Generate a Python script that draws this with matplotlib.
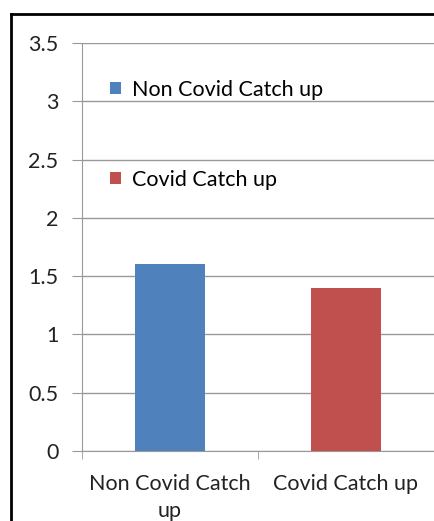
import matplotlib
matplotlib.use("Agg")
import matplotlib.pyplot as plt
from matplotlib.lines import Line2D

# data
categories = ["Non Covid Catch\nup", "Covid Catch up"]
values = [1.6, 1.4]
colors = ["#4F81BD", "#C0504D"]
yticks = [0, 0.5, 1, 1.5, 2, 2.5, 3, 3.5]
ytick_labels = ["0", "0.5", "1", "1.5", "2", "2.5", "3", "3.5"]

W, H = 435, 521
FS = 15.5
plt.rcParams["font.family"] = ["Lato", "DejaVu Sans"]
fig = plt.figure(figsize=(W / 100, H / 100), dpi=100)
ax = fig.add_axes([82 / W, 1 - 451 / H, (434 - 82) / W, (451 - 43) / H])

x = range(len(categories))
bars = ax.bar(x, values, width=0.4, color=colors, zorder=3)

ax.set_xlim(-0.5, len(categories) - 0.5)
ax.set_ylim(0, 3.5)
ax.set_yticks(yticks)
ax.set_yticklabels(ytick_labels, fontsize=FS, color="#222222")
ax.set_xticks(list(x))
ax.set_xticklabels(categories, fontsize=FS, color="#222222", linespacing=1.45)
ax.set_xticks([-0.5, 0.5, 1.5], minor=True)

ax.tick_params(axis="y", length=7, color="#999999", pad=10)
ax.tick_params(axis="x", which="major", length=0, pad=16.5)
ax.tick_params(axis="x", which="minor", length=6, color="#999999")

ax.grid(axis="y", color="#999999", linewidth=1, zorder=0)
for side in ["top", "right"]:
    ax.spines[side].set_visible(False)
ax.spines["left"].set_color("#999999")
ax.spines["bottom"].set_color("#999999")

ax.legend(bars, ["Non Covid Catch up", "Covid Catch up"],
          loc="upper left", bbox_to_anchor=(110 / W, 1 - 80 / H),
          bbox_transform=fig.transFigure, frameon=False, fontsize=FS,
          handlelength=0.5, handleheight=0.5, handletextpad=0.5,
          labelspacing=3.25, borderpad=0, borderaxespad=0)

# outer frame, only left and top edges visible
fig.add_artist(Line2D([11.5 / W, 11.5 / W], [0, 1 - 13.5 / H],
                      transform=fig.transFigure, color="black", linewidth=2))
fig.add_artist(Line2D([11.5 / W, 1], [1 - 13.5 / H, 1 - 13.5 / H],
                      transform=fig.transFigure, color="black", linewidth=2))

fig.savefig("out.png", dpi=100)
